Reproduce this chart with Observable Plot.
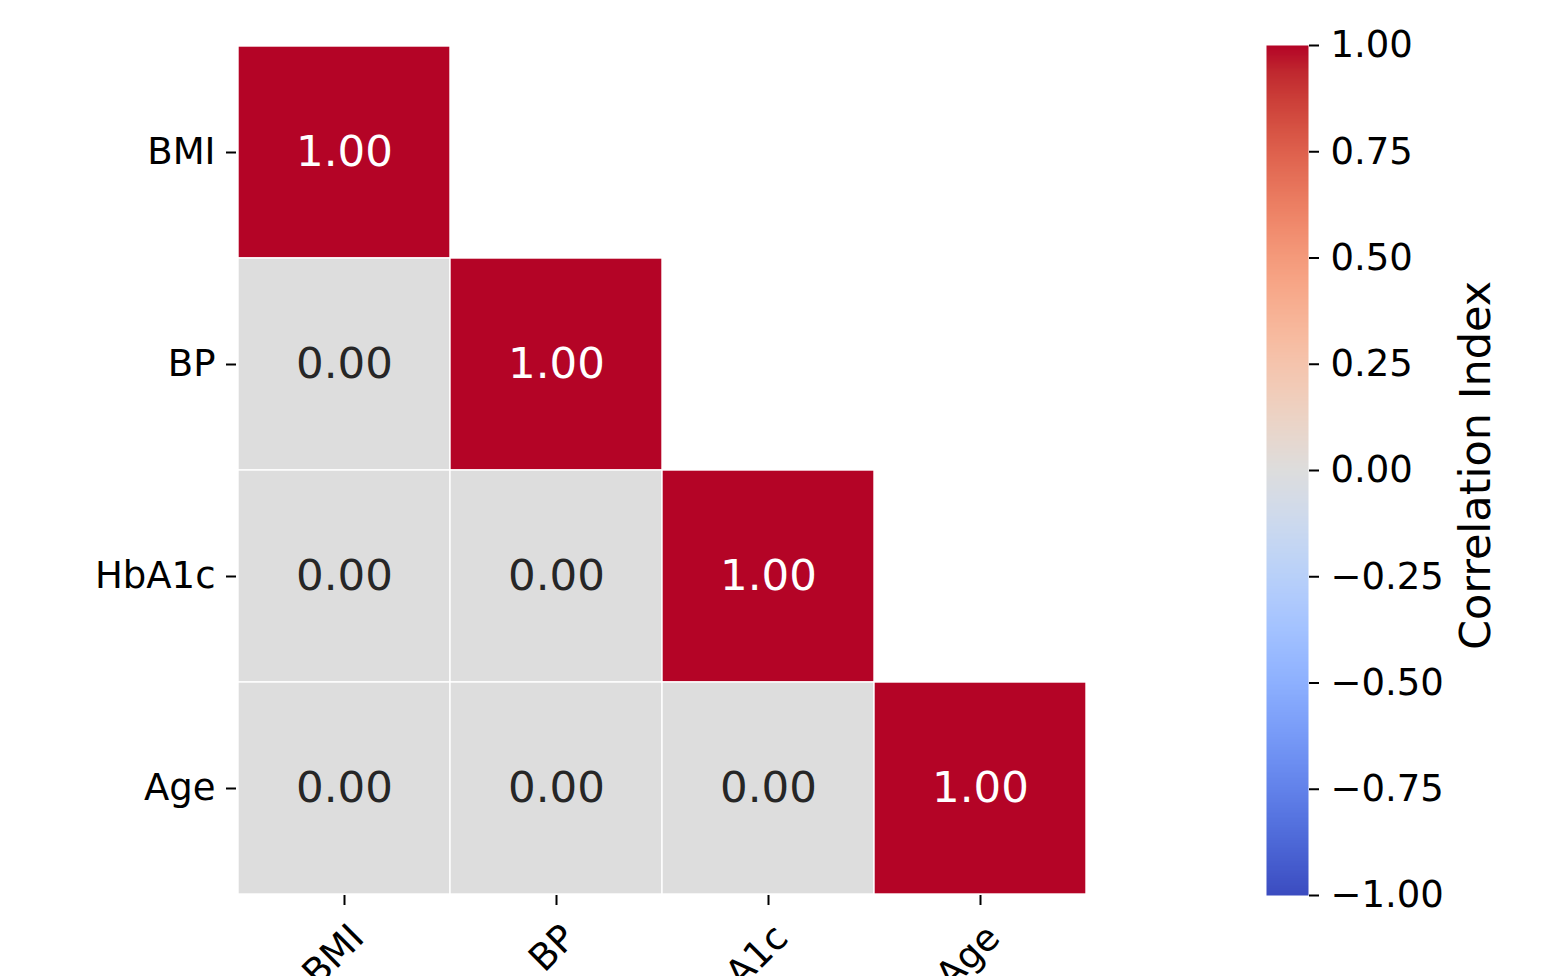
<!DOCTYPE html>
<html>
<head>
<meta charset="utf-8">
<script src="https://cdn.jsdelivr.net/npm/d3@7"></script>
<script src="https://cdn.jsdelivr.net/npm/@observablehq/plot@0.6"></script>
<style>
  html, body { margin: 0; padding: 0; background: white; overflow: hidden; }
  #chart { position: relative; width: 1542px; height: 976px; }
  #chart svg { position: absolute; top: 0; }
</style>
</head>
<body>
<div id="chart"></div>
<script>
// Variables of the correlation matrix (row/column order)
const variables = ["BMI", "BP", "HbA1c", "Age"];

// Correlation coefficients, row by row
const correlation = [
  [1.00, 0.00, 0.00, 0.00],
  [0.00, 1.00, 0.00, 0.00],
  [0.00, 0.00, 1.00, 0.00],
  [0.00, 0.00, 0.00, 1.00]
];

// Colour bar tick values
const colorbarTicks = [-1, -0.75, -0.5, -0.25, 0, 0.25, 0.5, 0.75, 1];

// Diverging "coolwarm" colour stops (Moreland), blue -> grey -> red
const coolwarmStops = [
  [59,76,192],[68,90,204],[77,104,215],[87,117,225],[98,130,234],[108,142,241],
  [119,154,247],[130,165,251],[141,176,254],[152,185,255],[163,194,255],[174,201,253],
  [184,208,249],[194,213,244],[204,217,238],[213,219,230],[221,221,221],[229,216,209],
  [236,211,197],[241,204,185],[245,196,173],[247,187,160],[247,177,148],[247,166,135],
  [244,154,123],[241,141,111],[236,127,99],[229,112,88],[222,96,77],[213,80,66],
  [203,62,56],[192,40,47],[180,4,38]
].map(([r, g, b]) => d3.rgb(r, g, b).formatHex());
const coolwarm = d3.piecewise(d3.interpolateRgb, coolwarmStops);

const colorScale = {type: "linear", domain: [-1, 1], interpolate: coolwarm};
const toColor = v => coolwarm((v + 1) / 2);

// Lower triangle (diagonal included) of the matrix
const cells = [];
variables.forEach((row, i) => {
  variables.forEach((col, j) => {
    if (j <= i) cells.push({row, col, value: correlation[i][j]});
  });
});

// Annotation colour: dark on light cells, white on dark cells
function annotationColor(v) {
  const c = d3.rgb(toColor(v));
  const lin = u => { u /= 255; return u <= 0.03928 ? u / 12.92 : Math.pow((u + 0.055) / 1.055, 2.4); };
  const lum = 0.2126 * lin(c.r) + 0.7152 * lin(c.g) + 0.0722 * lin(c.b);
  return lum > 0.408 ? "#262626" : "white";
}

const fmt = d3.format(".2f");
const font = "DejaVu Sans";
const tickFont = 37;
const annotFont = 43.5;
const titleFont = 43;

const W = 1542, H = 976;
const frame = {left: 236, right: 1087, top: 45, bottom: 895};

const heatmap = Plot.plot({
  width: W,
  height: H,
  marginLeft: frame.left,
  marginRight: W - frame.right,
  marginTop: frame.top,
  marginBottom: H - frame.bottom,
  style: {fontFamily: font, color: "black", background: "transparent", overflow: "hidden"},
  x: {type: "band", domain: variables, padding: 0, axis: null},
  y: {type: "band", domain: variables, padding: 0, axis: null},
  color: colorScale,
  marks: [
    Plot.cell(cells, {x: "col", y: "row", fill: "value", stroke: "white", strokeWidth: 1.4, inset: 0}),
    Plot.text(cells, {
      x: "col", y: "row",
      text: d => fmt(d.value),
      fill: d => annotationColor(d.value),
      fontSize: annotFont
    }),
    Plot.axisY({tickSize: 10, tickPadding: 11, fontSize: tickFont, strokeWidth: 2, label: null}),
    Plot.axisX({tickSize: 10, tickFormat: () => "", strokeWidth: 2, label: null}),
    // Column names, rotated 45° and ending just right of their ticks
    Plot.text(variables, {
      x: d => d,
      text: d => d,
      frameAnchor: "bottom",
      rotate: -45,
      textAnchor: "end",
      lineAnchor: "middle",
      fontSize: tickFont,
      fill: "black",
      dx: 13,
      dy: 36
    })
  ]
});
heatmap.style.left = "0px";

// Vertical colour bar with its own value axis
const cbLeft = 1246, cbX0 = 1266, cbX1 = 1308, cbWidth = 296;
const colorbar = Plot.plot({
  width: cbWidth,
  height: H,
  marginLeft: cbX0 - cbLeft,
  marginRight: cbWidth - (cbX1 - cbLeft),
  marginTop: frame.top,
  marginBottom: H - frame.bottom,
  style: {fontFamily: font, color: "black", background: "transparent", overflow: "hidden"},
  x: {domain: [0, 1], axis: null},
  y: {domain: [-1, 1], axis: null},
  color: colorScale,
  marks: [
    Plot.raster({x1: 0, x2: 1, y1: -1, y2: 1, width: 1, height: 512, fill: (x, y) => y, imageRendering: "auto"}),
    Plot.axisY({
      anchor: "right",
      ticks: colorbarTicks,
      tickFormat: fmt,
      tickSize: 10,
      tickPadding: 12,
      fontSize: tickFont,
      strokeWidth: 2,
      label: null
    }),
    Plot.text(["Correlation Index"], {
      frameAnchor: "right",
      rotate: -90,
      textAnchor: "middle",
      lineAnchor: "middle",
      fontSize: titleFont,
      fill: "black",
      dx: 1476 - cbX1,
      dy: -5
    })
  ]
});
colorbar.style.left = cbLeft + "px";

const chart = document.getElementById("chart");
chart.append(heatmap, colorbar);
</script>
</body>
</html>
